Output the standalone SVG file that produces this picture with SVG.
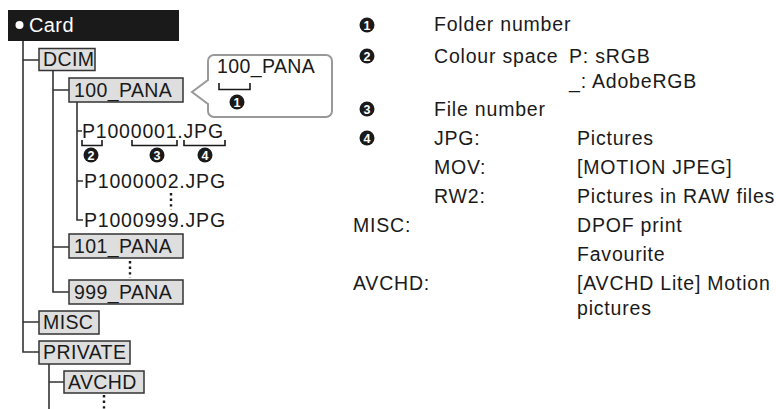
<svg xmlns="http://www.w3.org/2000/svg" width="776" height="409" viewBox="0 0 776 409">
<style>
text{font-family:"Liberation Sans",Arial,sans-serif;font-size:19.5px;fill:#1a1a1a}
.t{letter-spacing:0.4px}
.f{letter-spacing:0.8px}
.l{letter-spacing:0.8px}
.box{fill:#dedede;stroke:#333;stroke-width:1.5}
.ln{fill:none;stroke:#333;stroke-width:1.6}
.br{fill:none;stroke:#1a1a1a;stroke-width:1.6}
.dot{fill:none;stroke:#1a1a1a;stroke-width:2.4;stroke-dasharray:2.4 3.2}
.nc{fill:#1a1a1a}
.nt{font-family:"Liberation Sans",Arial,sans-serif;font-size:12.5px;font-weight:bold;fill:#fff;text-anchor:middle}
</style>
<rect width="776" height="409" fill="#fff"/>
<g id="connectors">
<path class="ln" d="M23,41V352H39M23,60H39M23,322H39"/>
<path class="ln" d="M53,71V292H69M53,90H69M53,247H69"/>
<path class="ln" d="M77,102V220H83M77,131H82M77,181H83"/>
<path class="ln" d="M49,364V409M49,382H64"/>
<line class="dot" x1="171" y1="193" x2="171" y2="210"/>
<line class="dot" x1="130" y1="261" x2="130" y2="278"/>
<line class="dot" x1="104" y1="395" x2="104" y2="409"/>
</g>
<g id="card">
<rect x="8" y="10" width="171" height="31" fill="#1a1a1a"/>
<circle cx="19.5" cy="25" r="4" fill="#fff"/>
<text class="t" x="29" y="32" style="fill:#fff;font-size:20px">Card</text>
</g>
<g id="dcim"><rect class="box" x="39" y="48.5" width="56" height="22"/><text class="t" x="43" y="66">DCIM</text></g>
<g id="pana100"><rect class="box" x="69" y="78" width="114" height="24"/><text class="t" x="74" y="97">100_PANA</text></g>
<g id="callout">
<path d="M214,55H326A6,6 0 0 1 332,61V111A6,6 0 0 1 326,117H214A6,6 0 0 1 208,111V104L192,92L208,80V61A6,6 0 0 1 214,55Z" fill="#fff" stroke="#999" stroke-width="2"/>
<text class="t" x="217" y="73">100_PANA</text>
<path class="br" d="M219,83V89.5H250V83"/>
<circle class="nc" cx="237" cy="102" r="7.5"/><text class="nt" x="237" y="106.5">1</text>
</g>
<g id="files">
<text class="f" x="82" y="138">P1000001.JPG</text>
<path class="br" d="M82,140V145.5H102V140M132,140V145.5H177V140M184,140V145.5H225V140"/>
<circle class="nc" cx="91" cy="155" r="7.5"/><text class="nt" x="91" y="159.5">2</text>
<circle class="nc" cx="157" cy="155" r="7.5"/><text class="nt" x="157" y="159.5">3</text>
<circle class="nc" cx="205" cy="155" r="7.5"/><text class="nt" x="205" y="159.5">4</text>
<text class="f" x="84" y="188">P1000002.JPG</text>
<text class="f" x="84" y="227">P1000999.JPG</text>
</g>
<g id="pana101"><rect class="box" x="69" y="234" width="114" height="24"/><text class="t" x="74" y="253">101_PANA</text></g>
<g id="pana999"><rect class="box" x="69" y="280" width="114" height="24"/><text class="t" x="74" y="299">999_PANA</text></g>
<g id="misc"><rect class="box" x="39" y="311" width="60" height="23"/><text class="t" x="43" y="329">MISC</text></g>
<g id="private"><rect class="box" x="39" y="341" width="91" height="23"/><text class="t" x="43" y="359">PRIVATE</text></g>
<g id="avchd"><rect class="box" x="64" y="371" width="80" height="22"/><text class="t" x="68" y="389">AVCHD</text></g>
<g id="legend">
<circle class="nc" cx="367" cy="25" r="7.5"/><text class="nt" x="367" y="29.5">1</text>
<text class="l" x="434" y="31">Folder number</text>
<circle class="nc" cx="367" cy="56" r="7.5"/><text class="nt" x="367" y="60.5">2</text>
<text class="l" x="434" y="63">Colour space</text>
<text class="l" x="569" y="63">P: sRGB</text>
<text class="l" x="569" y="88">_: AdobeRGB</text>
<circle class="nc" cx="367" cy="109" r="7.5"/><text class="nt" x="367" y="113.5">3</text>
<text class="l" x="434" y="116">File number</text>
<circle class="nc" cx="367" cy="138" r="7.5"/><text class="nt" x="367" y="142.5">4</text>
<text class="l" x="434" y="145">JPG:</text>
<text class="l" x="577" y="145">Pictures</text>
<text class="l" x="434" y="174">MOV:</text>
<text class="l" x="577" y="174">[MOTION JPEG]</text>
<text class="l" x="434" y="203">RW2:</text>
<text class="l" x="577" y="203">Pictures in RAW files</text>
<text class="l" x="353" y="232">MISC:</text>
<text class="l" x="577" y="232">DPOF print</text>
<text class="l" x="577" y="261">Favourite</text>
<text class="l" x="353" y="290">AVCHD:</text>
<text class="l" x="577" y="290">[AVCHD Lite] Motion</text>
<text class="l" x="577" y="315">pictures</text>
</g>
</svg>
